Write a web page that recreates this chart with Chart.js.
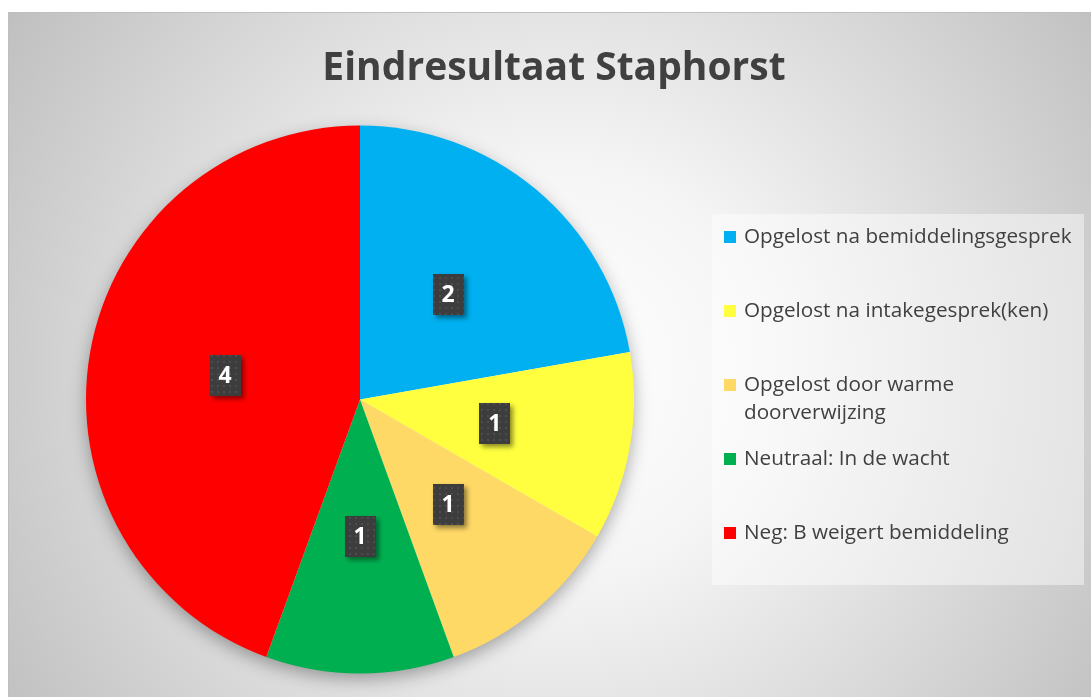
<!DOCTYPE html>
<html>
<head>
<meta charset="utf-8">
<script src="https://cdn.jsdelivr.net/npm/chart.js@4.4.0/dist/chart.umd.min.js"></script>
<style>
  html, body { margin: 0; padding: 0; background: #fff; }
  #wrap { width: 1091px; height: 697px; }
</style>
</head>
<body>
<div id="wrap"><canvas id="pie" width="1091" height="697"></canvas></div>
<script>
const chartTitle = "Eindresultaat Staphorst";
const categories = [
  "Opgelost na bemiddelingsgesprek",
  "Opgelost na intakegesprek(ken)",
  "Opgelost door warme doorverwijzing",
  "Neutraal: In de wacht",
  "Neg: B weigert bemiddeling",
];
const counts = [2, 1, 1, 1, 4];
const sliceColors = ["#00B0F0", "#FFFF3F", "#FFD966", "#00B050", "#FF0000"];

const textColor = "#404040";

// dotted texture for the value boxes
const dots = document.createElement("canvas");
dots.width = 6;
dots.height = 6;
const dctx = dots.getContext("2d");
dctx.fillStyle = "#3d3d3d";
dctx.fillRect(0, 0, 6, 6);
dctx.fillStyle = "#4d4d4d";
dctx.fillRect(1, 1, 2, 2);

const backdrop = {
  id: "backdrop",
  beforeDraw(chart) {
    const ctx = chart.ctx;
    ctx.save();
    ctx.fillStyle = "#fff";
    ctx.fillRect(0, 0, chart.width, chart.height);
    const g = ctx.createRadialGradient(560, 370, 0, 560, 370, 680);
    g.addColorStop(0, "#ffffff");
    g.addColorStop(0.3, "#f5f5f5");
    g.addColorStop(1, "#bdbdbd");
    ctx.fillStyle = g;
    ctx.fillRect(8, 12, chart.width - 8, chart.height - 12);
    ctx.strokeStyle = "#bfbfbf";
    ctx.lineWidth = 1;
    ctx.strokeRect(8.5, 12.5, chart.width, chart.height);

    // title
    ctx.fillStyle = textColor;
    ctx.font = "bold 39px 'Open Sans'";
    ctx.textAlign = "center";
    ctx.textBaseline = "alphabetic";
    ctx.fillText(chartTitle, 554, 80);
    ctx.restore();
  },
  beforeDatasetsDraw(chart) {
    // soft shadow under the pie
    const arc = chart.getDatasetMeta(0).data[0];
    if (!arc) return;
    const { x, y, outerRadius } = arc.getProps(["x", "y", "outerRadius"], true);
    const ctx = chart.ctx;
    ctx.save();
    ctx.shadowColor = "rgba(0,0,0,0.35)";
    ctx.shadowBlur = 18;
    ctx.shadowOffsetY = 6;
    ctx.fillStyle = "#e8e8e8";
    ctx.beginPath();
    ctx.arc(x, y, outerRadius - 1, 0, Math.PI * 2);
    ctx.fill();
    ctx.restore();
  },
};

const valueBoxes = {
  id: "valueBoxes",
  afterDatasetsDraw(chart) {
    const ctx = chart.ctx;
    const pattern = ctx.createPattern(dots, "repeat");
    const meta = chart.getDatasetMeta(0);
    meta.data.forEach((arc, i) => {
      const p = arc.getProps(["x", "y", "startAngle", "endAngle", "outerRadius"], true);
      const mid = (p.startAngle + p.endAngle) / 2;
      const r = p.outerRadius * 0.5;
      const cx = p.x + Math.cos(mid) * r;
      const cy = p.y + Math.sin(mid) * r;
      const w = 31, h = 41;
      ctx.save();
      ctx.shadowColor = "rgba(0,0,0,0.45)";
      ctx.shadowBlur = 5;
      ctx.shadowOffsetX = 3;
      ctx.shadowOffsetY = 3;
      ctx.fillStyle = pattern;
      ctx.fillRect(Math.round(cx - w / 2), Math.round(cy - h / 2), w, h);
      ctx.restore();
      ctx.save();
      ctx.fillStyle = "#ffffff";
      ctx.font = "bold 23px 'Open Sans'";
      ctx.textAlign = "center";
      ctx.textBaseline = "middle";
      ctx.fillText(String(chart.data.datasets[0].data[i]), cx, cy + 1);
      ctx.restore();
    });
  },
};

const sideLegend = {
  id: "sideLegend",
  afterDraw(chart) {
    const ctx = chart.ctx;
    ctx.save();
    ctx.fillStyle = "rgba(255,255,255,0.45)";
    ctx.fillRect(712, 214, 372, 371);
    ctx.font = "20.7px 'Open Sans'";
    ctx.textBaseline = "middle";
    ctx.textAlign = "left";
    const maxW = 338;
    chart.data.labels.forEach((label, i) => {
      const y = 237 + i * 74;
      ctx.fillStyle = chart.data.datasets[0].backgroundColor[i];
      ctx.fillRect(724, y - 6, 12, 12);
      // wrap long labels
      const words = label.split(" ");
      const lines = [];
      let line = "";
      words.forEach((wd) => {
        const test = line ? line + " " + wd : wd;
        if (ctx.measureText(test).width > maxW && line) {
          lines.push(line);
          line = wd;
        } else {
          line = test;
        }
      });
      lines.push(line);
      ctx.fillStyle = textColor;
      lines.forEach((ln, k) => ctx.fillText(ln, 744, y + k * 28));
    });
    ctx.restore();
  },
};

new Chart(document.getElementById("pie"), {
  type: "pie",
  data: {
    labels: categories,
    datasets: [
      {
        data: counts,
        backgroundColor: sliceColors,
        borderWidth: 0,
      },
    ],
  },
  options: {
    responsive: false,
    animation: false,
    layout: {
      padding: { left: 86, right: 457, top: 125, bottom: 23 },
    },
    plugins: {
      legend: { display: false },
      title: { display: false },
      tooltip: { enabled: false },
    },
  },
  plugins: [backdrop, valueBoxes, sideLegend],
});
</script>
</body>
</html>
